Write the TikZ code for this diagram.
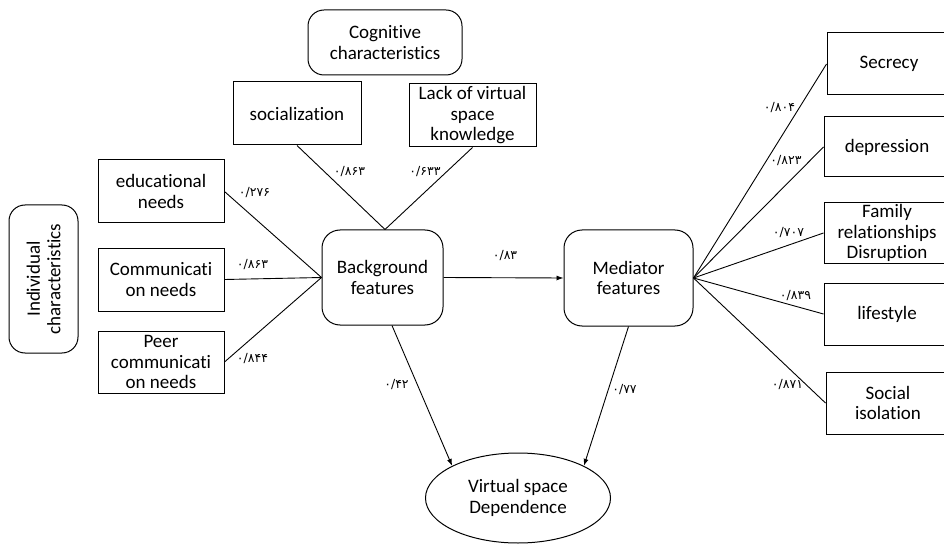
\documentclass[tikz,border=0pt]{standalone}
\usepackage{fontspec}
\setmainfont{Carlito}[Ligatures=NoCommon]
\newfontfamily\pfont{DejaVu Sans}
\usetikzlibrary{arrows.meta,shapes.geometric}
\begin{document}
\begin{tikzpicture}[x=1pt,y=-1pt,
  rbox/.style={draw, line width=1pt, rectangle, inner sep=0pt, align=center,
    font=\fontsize{19}{20.5}\selectfont},
  rnd/.style={rbox, rounded corners=16pt},
  lbl/.style={font=\pfont\fontsize{12.5}{13}\selectfont, inner sep=0pt},
  conn/.style={line width=0.9pt},
  arr/.style={conn, -{Latex[length=7pt,width=5pt]}}]
\useasboundingbox (0,0) rectangle (944,545);
\clip (0,0) rectangle (944,545);
% top
\node[rnd, minimum width=154pt, minimum height=65pt] (cog) at (385,42.5) {Cognitive\\characteristics};
\node[rbox, minimum width=128pt, minimum height=63pt] (soc) at (297,113.5) {socialization};
\node[rbox, minimum width=127pt, minimum height=63pt] (lack) at (472.5,115.5) {Lack of virtual\\space\\knowledge};
% left
\node[rbox, minimum width=126pt, minimum height=63pt] (edu) at (161,191.5) {educational\\needs};
\node[rbox, minimum width=126pt, minimum height=63pt] (com) at (161,279.5) {Communicati\\on needs};
\node[rbox, minimum width=126pt, minimum height=62pt] (peer) at (161,362) {Peer\\communicati\\on needs};
\node[rnd, rotate=90, minimum width=148pt, minimum height=69pt] (ind) at (43.5,279) {Individual\\characteristics};
% centre
\node[rnd, rounded corners=18pt, minimum width=121pt, minimum height=95pt] (bg) at (382.5,277.5) {Background\\features};
\node[rnd, rounded corners=18pt, minimum width=129pt, minimum height=96pt] (med) at (628.5,278) {Mediator\\features};
\node[draw, ellipse, line width=1pt, inner sep=0pt, align=center,
  font=\fontsize{19}{20.5}\selectfont, minimum width=185pt, minimum height=90pt] (vsd) at (518,498) {Virtual space\\Dependence};
% right
\node[rbox, minimum width=124pt, minimum height=62pt] (sec) at (889,64) {Secrecy};
\node[rbox, minimum width=126pt, minimum height=60pt] (dep) at (887,147) {depression};
\node[rbox, minimum width=126pt, minimum height=61pt] (fam) at (887,233) {Family\\relationships\\Disruption};
\node[rbox, minimum width=126pt, minimum height=62pt] (life) at (887,314) {lifestyle};
\node[rbox, minimum width=124pt, minimum height=62pt] (iso) at (888,403) {Social\\isolation};
% connectors
\coordinate (bgtop) at ([xshift=2.5pt]bg.north);
\coordinate (bgbot) at ([xshift=9.5pt]bg.south);
\draw[conn] (soc.south) -- (bgtop);
\draw[conn] (lack.south) -- (bgtop);
\draw[conn] (edu.east) -- (bg.west);
\draw[conn] (com.east) -- (bg.west);
\draw[conn] (peer.east) -- (bg.west);
\draw[arr] (bg.east) -- (med.west);
\draw[arr] (bgbot) -- (vsd.154);
\draw[arr] (med.south) -- (vsd.26);
\draw[conn] (med.east) -- (sec.west);
\draw[conn] (med.east) -- (dep.west);
\draw[conn] (med.east) -- (fam.west);
\draw[conn] (med.east) -- (life.west);
\draw[conn] (med.east) -- (iso.west);
% labels
\node[lbl] (l1) at (349.5,172) {۰/۸۶۳};
\node[lbl] (l2) at (425,172) {۰/۶۳۳};
\node[lbl] (l3) at (254.5,193) {۰/۲۷۶};
\node[lbl] (l4) at (252.5,265) {۰/۸۶۳};
\node[lbl] (l5) at (252.5,359) {۰/۸۴۴};
\node[lbl] (l6) at (505,256) {۰/۸۳};
\node[lbl] (l7) at (396.5,385) {۰/۴۲};
\node[lbl] (l8) at (624.5,390) {۰/۷۷};
\node[lbl] (l9) at (779.5,108) {۰/۸۰۴};
\node[lbl] (l10) at (786,161) {۰/۸۲۳};
\node[lbl] (l11) at (788.5,233) {۰/۷۰۷};
\node[lbl] (l12) at (795.5,296) {۰/۸۳۹};
\node[lbl] (l13) at (787.5,385) {۰/۸۷۱};
\end{tikzpicture}
\end{document}
